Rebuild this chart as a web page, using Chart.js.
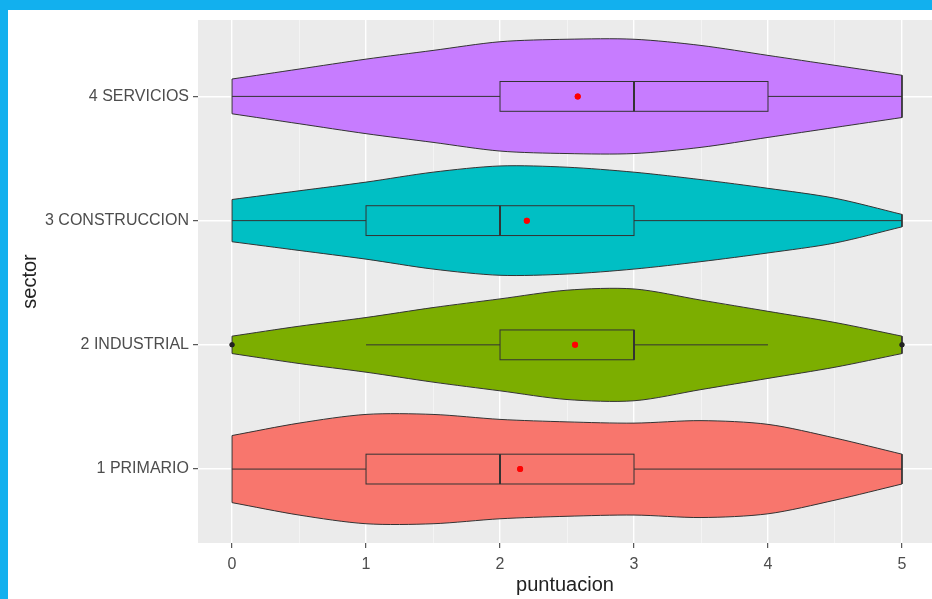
<!DOCTYPE html>
<html>
<head>
<meta charset="utf-8">
<script src="https://cdn.jsdelivr.net/npm/chart.js@4.4.1/dist/chart.umd.min.js"></script>
<style>
  html, body { margin: 0; padding: 0; background: #12b0ee; overflow: hidden; }
  #marco { position: absolute; left: 8px; top: 10px; width: 924px; height: 589px; background: #fff; overflow: hidden; }
</style>
</head>
<body>
<div id="marco"><canvas id="grafica" width="928" height="589"></canvas></div>
<script>
// Violines + boxplots por sector (ggplot).
var sectores = ["1 PRIMARIO", "2 INDUSTRIAL", "3 CONSTRUCCION", "4 SERVICIOS"];
var colores = ["#F8766D", "#7CAE00", "#00BFC4", "#C77CFF"];

// puntos de la puntuación donde se midió la semianchura del violín
var puntos = [0, 0.5, 1, 1.5, 2, 2.5, 3, 3.5, 4, 4.5, 5];
// semianchura del violín (unidades del eje de sectores)
var anchoPrimario     = [0.27, 0.37, 0.44, 0.44, 0.40, 0.38, 0.37, 0.39, 0.36, 0.25, 0.12];
var anchoIndustrial   = [0.07, 0.15, 0.22, 0.30, 0.37, 0.44, 0.45, 0.36, 0.27, 0.18, 0.07];
var anchoConstruccion = [0.17, 0.24, 0.31, 0.39, 0.44, 0.43, 0.39, 0.33, 0.26, 0.18, 0.05];
var anchoServicios    = [0.14, 0.22, 0.30, 0.37, 0.44, 0.46, 0.46, 0.41, 0.33, 0.25, 0.17];

// boxplots: mínimo, Q1, mediana, Q3, máximo (bigotes)
var minimos  = [0, 1, 0, 0];
var q1       = [1, 2, 1, 2];
var medianas = [2, 3, 2, 3];
var q3       = [3, 3, 3, 4];
var maximos  = [5, 4, 5, 5];
var medias   = [2.15, 2.56, 2.2, 2.58];
// atípicos (solo en industrial)
var atipicosX = [0, 5];
var atipicosSector = [2, 2];

var anchos = [anchoPrimario, anchoIndustrial, anchoConstruccion, anchoServicios];
var MEDIA_CAJA = 0.12;
var FUENTE = "'Liberation Sans', Arial, sans-serif";

var datasets = [];
anchos.forEach(function (w, i) {
    var c = i + 1;
    var ult = w.length - 1;
    datasets.push({
        data: puntos.map(function (p, k) { return { x: p, y: c + w[k] }; }),
        borderColor: "#333333", borderWidth: 1, pointRadius: 0, fill: false, tension: 0.3, order: 2
    });
    datasets.push({
        data: puntos.map(function (p, k) { return { x: p, y: c - w[k] }; }),
        borderColor: "#333333", borderWidth: 1, pointRadius: 0,
        fill: { target: "-1" }, backgroundColor: colores[i], tension: 0.3, order: 2
    });
    // bordes verticales de los extremos del violín
    datasets.push({
        data: [{ x: puntos[0], y: c - w[0] }, { x: puntos[0], y: c + w[0] }, { x: 2.5, y: null },
               { x: puntos[ult], y: c + w[ult] }, { x: puntos[ult], y: c - w[ult] }],
        borderColor: "#333333", borderWidth: 1, pointRadius: 0, fill: false, spanGaps: false, order: 1
    });
});

datasets.push({
    type: "scatter",
    data: atipicosX.map(function (x, i) { return { x: x, y: atipicosSector[i] }; }),
    pointRadius: 2.5, pointBackgroundColor: "#222", pointBorderWidth: 0, order: 0
});
datasets.push({
    type: "scatter",
    data: medias.map(function (m, i) { return { x: m, y: i + 1 }; }),
    pointRadius: 3, pointBackgroundColor: "#ff0000", pointBorderWidth: 0, order: 0
});

var fondoPanel = {
    id: "fondoPanel",
    beforeDraw: function (chart) {
        var a = chart.chartArea, ctx = chart.ctx;
        ctx.save();
        ctx.fillStyle = "#EBEBEB";
        ctx.fillRect(a.left, a.top, a.right - a.left, a.bottom - a.top);
        ctx.restore();
    }
};

var cajas = {
    id: "cajas",
    afterDatasetsDraw: function (chart) {
        var ctx = chart.ctx, sx = chart.scales.x, sy = chart.scales.y;
        ctx.save();
        ctx.strokeStyle = "#333333";
        sectores.forEach(function (_, i) {
            var c = i + 1;
            var yc = sy.getPixelForValue(c);
            var yt = sy.getPixelForValue(c + MEDIA_CAJA), yb = sy.getPixelForValue(c - MEDIA_CAJA);
            var x1 = sx.getPixelForValue(q1[i]), x3 = sx.getPixelForValue(q3[i]);
            ctx.lineWidth = 1;
            ctx.beginPath();
            ctx.moveTo(sx.getPixelForValue(minimos[i]), yc); ctx.lineTo(x1, yc);
            ctx.moveTo(x3, yc); ctx.lineTo(sx.getPixelForValue(maximos[i]), yc);
            ctx.stroke();
            ctx.strokeRect(x1, yt, x3 - x1, yb - yt);
            ctx.lineWidth = 2;
            var xm = sx.getPixelForValue(medianas[i]);
            ctx.beginPath();
            ctx.moveTo(xm, yt); ctx.lineTo(xm, yb);
            ctx.stroke();
        });
        ctx.restore();
        // medias y atípicos encima de las cajas
        chart.getSortedVisibleDatasetMetas().forEach(function (m) {
            if (m.type === "scatter") m.controller.draw();
        });
    }
};

function esEntero(v) { return Math.abs(v - Math.round(v)) < 1e-6; }

new Chart(document.getElementById("grafica"), {
    type: "line",
    data: { datasets: datasets },
    plugins: [fondoPanel, cajas],
    options: {
        responsive: false,
        animation: false,
        events: [],
        layout: { padding: { top: 10, right: 0, left: 0, bottom: 0 } },
        plugins: { legend: { display: false }, tooltip: { enabled: false } },
        scales: {
            x: {
                type: "linear",
                min: -0.254, max: 5.224,
                afterBuildTicks: function (s) {
                    s.ticks = [0, 0.5, 1, 1.5, 2, 2.5, 3, 3.5, 4, 4.5, 5].map(function (v) { return { value: v }; });
                },
                afterFit: function (s) { s.height = 56; s.paddingLeft = 0; s.paddingRight = 0; },
                border: { display: false },
                grid: {
                    color: function (c) { return esEntero(c.tick.value) ? "#ffffff" : "rgba(255,255,255,0.6)"; },
                    lineWidth: function (c) { return esEntero(c.tick.value) ? 1.4 : 0.8; },
                    tickColor: function (c) { return esEntero(c.tick.value) ? "#333333" : "rgba(0,0,0,0)"; },
                    tickLength: 5, tickWidth: 1
                },
                ticks: {
                    autoSkip: false, maxRotation: 0, padding: 7,
                    color: "#4D4D4D", font: { family: FUENTE, size: 16 },
                    callback: function (v) { return esEntero(v) ? String(Math.round(v)) : ""; }
                },
                title: { display: true, text: "puntuacion", color: "#222", font: { family: FUENTE, size: 20 }, padding: { top: 0, bottom: 2 } }
            },
            y: {
                type: "linear",
                min: 0.405, max: 4.615,
                afterBuildTicks: function (s) {
                    s.ticks = [1, 2, 3, 4].map(function (v) { return { value: v }; });
                },
                afterFit: function (s) { s.width = 190; s.paddingTop = 0; s.paddingBottom = 0; },
                border: { display: false },
                grid: { color: "#ffffff", lineWidth: 1.4, tickColor: "#333333", tickLength: 5, tickWidth: 1 },
                ticks: {
                    autoSkip: false, padding: 4,
                    color: "#4D4D4D", font: { family: FUENTE, size: 16 },
                    callback: function (v) { return sectores[Math.round(v) - 1] || ""; }
                },
                title: { display: true, text: "sector", color: "#222", font: { family: FUENTE, size: 20 }, padding: { top: 10, bottom: 0 } }
            }
        }
    }
});
</script>
</body>
</html>
